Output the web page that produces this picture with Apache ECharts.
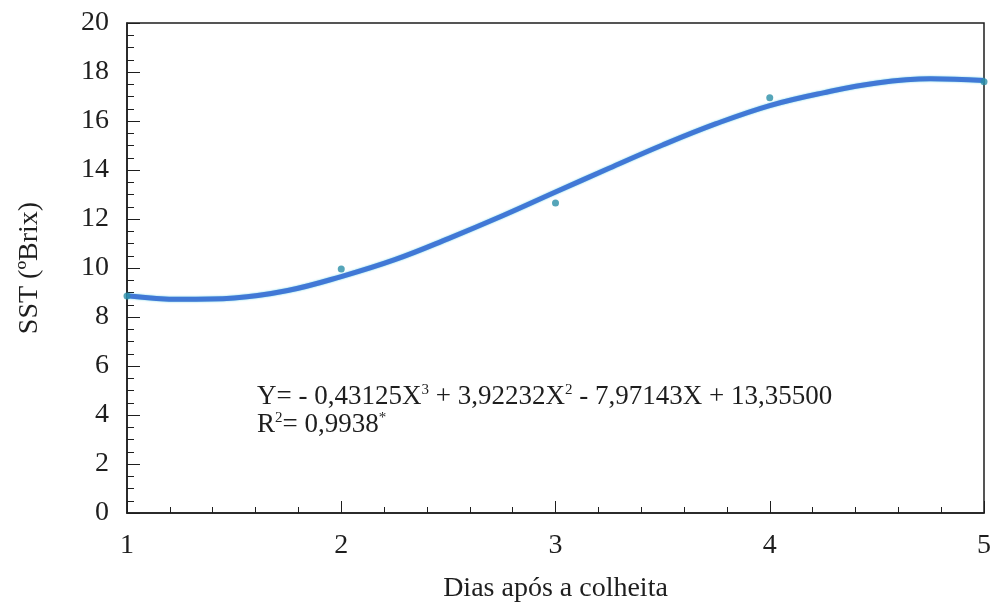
<!DOCTYPE html>
<html>
<head>
<meta charset="utf-8">
<script src="https://cdn.jsdelivr.net/npm/echarts@6/dist/echarts.min.js"></script>
<style>
  html, body { margin: 0; padding: 0; background: #fff; }
  #chart { width: 991px; height: 605px; }
</style>
</head>
<body>
<div id="chart"></div>
<script>
// Observed soluble solids by day after harvest
const days = [1, 2, 3, 4, 5];
const sstObserved = [8.86, 9.96, 12.65, 16.95, 17.6];

// Fitted cubic trend line, sampled along the day axis
const fitDays = [1, 1.25, 1.5, 1.75, 2, 2.25, 2.5, 2.75, 3, 3.25, 3.5, 3.75, 4, 4.25, 4.5, 4.75, 5];
const fitValues = [8.87, 8.72, 8.78, 9.08, 9.65, 10.34, 11.2, 12.12, 13.1, 14.07, 15.02, 15.89, 16.63, 17.15, 17.55, 17.72, 17.65];

const xTicks = [1, 2, 3, 4, 5];
const yTicks = [0, 2, 4, 6, 8, 10, 12, 14, 16, 18, 20];

const serif = '"Liberation Serif", "Times New Roman", serif';
const ink = '#1e1e1e';

const chart = echarts.init(document.getElementById('chart'));
chart.setOption({
  animation: false,
  backgroundColor: '#ffffff',
  grid: {
    left: 127, right: 7, top: 23, bottom: 92,
    containLabel: false,
    outerBoundsMode: 'none',
    show: true, borderColor: ink, borderWidth: 1.5, backgroundColor: 'transparent'
  },
  xAxis: {
    type: 'value',
    min: xTicks[0], max: xTicks[xTicks.length - 1], interval: 1,
    name: 'Dias após a colheita',
    nameLocation: 'middle', nameGap: 62,
    nameTextStyle: { fontFamily: serif, fontSize: 28, color: ink },
    axisLine: { show: true, lineStyle: { color: ink, width: 1.5 } },
    axisTick: { show: true, inside: true, length: 12, lineStyle: { color: ink, width: 1 } },
    minorTick: { show: true, splitNumber: 5, length: 6, lineStyle: { color: ink, width: 1 } },
    splitLine: { show: false },
    axisLabel: { fontFamily: serif, fontSize: 28, color: ink, margin: 19 }
  },
  yAxis: {
    type: 'value',
    min: yTicks[0], max: yTicks[yTicks.length - 1], interval: 2,
    name: 'SST (ºBrix)',
    nameLocation: 'middle', nameGap: 83, nameRotate: 90,
    nameTextStyle: { fontFamily: serif, fontSize: 28, color: ink },
    axisLine: { show: true, lineStyle: { color: ink, width: 1.5 } },
    axisTick: { show: true, inside: true, length: 13, lineStyle: { color: ink, width: 1 } },
    minorTick: { show: true, splitNumber: 4, length: 7, lineStyle: { color: ink, width: 1 } },
    splitLine: { show: false },
    axisLabel: { fontFamily: serif, fontSize: 28, color: ink, margin: 18 }
  },
  series: [
    {
      name: 'Ajuste',
      type: 'line',
      data: fitDays.map((d, i) => [d, fitValues[i]]),
      smooth: 0.4,
      showSymbol: false,
      lineStyle: { color: '#4178d6', width: 5, shadowColor: 'rgba(40,190,220,0.7)', shadowBlur: 2 },
      z: 2
    },
    {
      name: 'SST',
      type: 'scatter',
      data: days.map((d, i) => [d, sstObserved[i]]),
      symbol: 'circle',
      symbolSize: 7,
      itemStyle: { color: '#2a8ea8' },
      z: 3
    }
  ],
  graphic: [
    {
      type: 'text',
      left: 257,
      top: 383,
      style: {
        text: '{t|Y= - 0,43125X}{s|3}{t| + 3,92232X}{s|2}{t| - 7,97143X + 13,35500}\n{t|R}{s|2}{t|= 0,9938}{s|*}',
        fill: ink,
        rich: {
          t: { fontFamily: serif, fontSize: 27, lineHeight: 28, fill: ink },
          s: { fontFamily: serif, fontSize: 15, lineHeight: 28, verticalAlign: 'top', padding: [0, 0, 11, 0], fill: ink }
        }
      }
    }
  ]
});
</script>
</body>
</html>
